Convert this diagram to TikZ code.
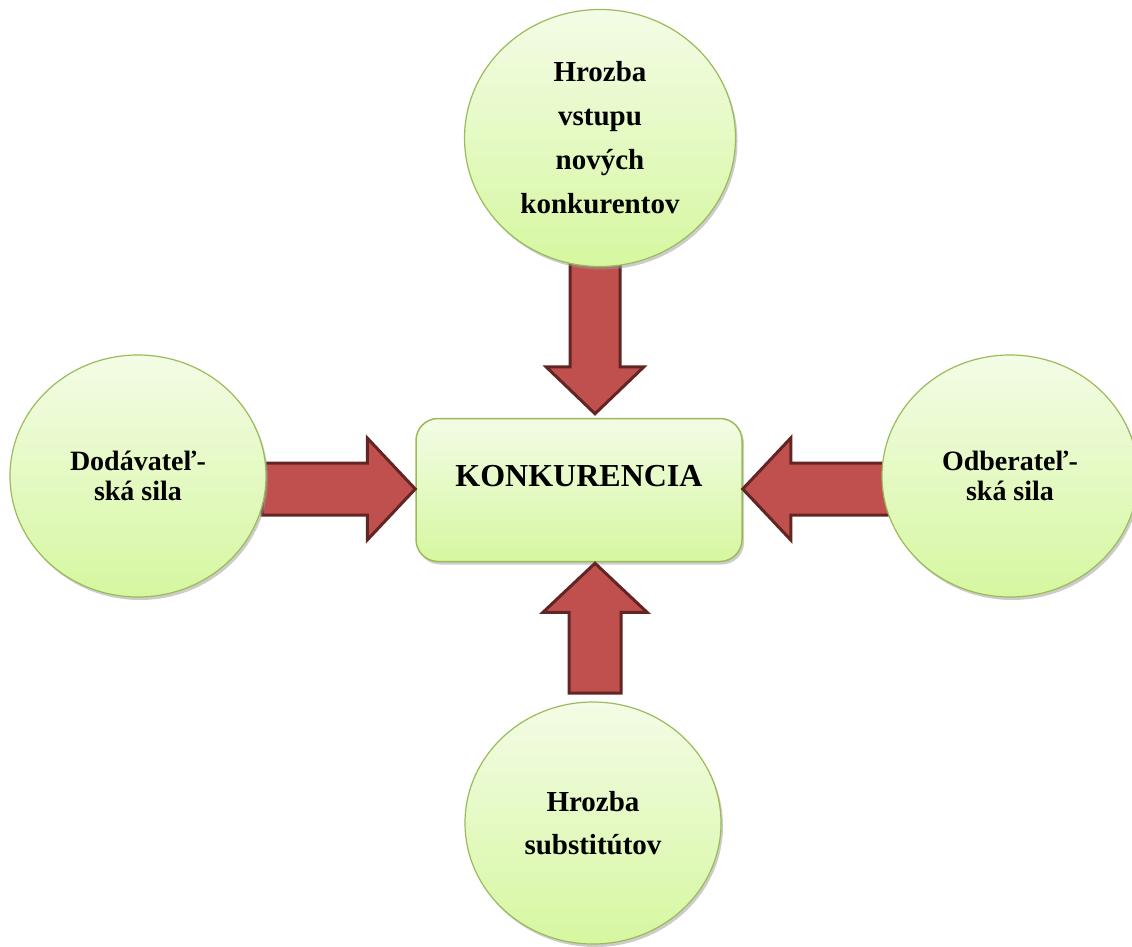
\documentclass[tikz,border=0pt]{standalone}
\usepackage{fontspec}
\setmainfont{Liberation Serif}
\usetikzlibrary{shapes.geometric,shadows}
\definecolor{forcefill}{RGB}{192,80,77}
\definecolor{forceline}{RGB}{99,37,36}
\definecolor{leafline}{RGB}{155,187,89}
\definecolor{leaftop}{RGB}{243,252,230}
\definecolor{leafbot}{RGB}{214,247,160}
\tikzset{
  leaf/.style={ellipse, draw=leafline, line width=1.2pt,
    top color=leaftop, bottom color=leafbot, align=center,
    font=\bfseries, inner sep=0pt,
    drop shadow={shadow xshift=2pt, shadow yshift=-3pt, fill=black!40, opacity=0.5}},
  hub/.style={rectangle, rounded corners=22pt, draw=leafline, line width=1.5pt,
    top color=leaftop, bottom color=leafbot, align=center,
    minimum width=326pt, minimum height=143pt,
    font=\fontsize{32}{36}\selectfont\bfseries,
    text height=22pt, text depth=30pt,
    drop shadow={shadow xshift=2pt, shadow yshift=-3pt, fill=black!40, opacity=0.5}},
  force/.style={fill=forcefill, draw=forceline, line width=3pt, line join=miter}
}
\begin{document}
\begin{tikzpicture}[x=1pt, y=-1pt]
\useasboundingbox (0,0) rectangle (1132,947);

% central box
\node[hub] (kon) at (579,490) {KONKURENCIA};

% arrow tips on the box and the feet of the arrows (under the circles)
\coordinate (toptip) at ([xshift=16pt,yshift=4pt]kon.north);
\coordinate (bottip) at ([xshift=16pt,yshift=-1pt]kon.south);
\coordinate (lefttip) at ([yshift=1pt]kon.west);
\coordinate (righttip) at ([yshift=1pt]kon.east);
\coordinate (topfoot) at (595,262);
\coordinate (botfoot) at (595,693);
\coordinate (leftfoot) at (262,489);
\coordinate (rightfoot) at (892,489);

% block arrows pointing at the central box
\draw[force] (toptip) -- ++(49,-47) -- ++(-24,0) |- (topfoot)
  -- ++(-25,0) |- ([xshift=-49pt,yshift=47pt]toptip) -- cycle;
\draw[force] (bottip) -- ++(52,49) -- ++(-26,0) |- (botfoot)
  -- ++(-26,0) |- ([xshift=-52pt,yshift=-49pt]bottip) -- cycle;
\draw[force] (lefttip) -- ++(-48,-51) -- ++(0,25) -| (leftfoot)
  -- ++(0,26) -| ([xshift=-48pt,yshift=-51pt]lefttip) -- cycle;
\draw[force] (righttip) -- ++(48,-51) -- ++(0,25) -| (rightfoot)
  -- ++(0,26) -| ([xshift=48pt,yshift=-51pt]righttip) -- cycle;

% the four forces
\node[leaf, minimum width=271pt, minimum height=257pt,
  font=\fontsize{29}{44}\selectfont\bfseries] (entry) at (600,138)
  {Hrozba\\vstupu\\nových\\konkurentov};
\node[leaf, minimum width=256pt, minimum height=242pt,
  font=\fontsize{28}{30}\selectfont\bfseries] (supp) at (138,476)
  {Dodávateľ-\\ská sila};
\node[leaf, minimum width=256pt, minimum height=242pt,
  font=\fontsize{28}{30}\selectfont\bfseries] (buy) at (1010,476)
  {Odberateľ-\\ská sila};
\node[leaf, minimum width=256pt, minimum height=242pt,
  font=\fontsize{29}{43}\selectfont\bfseries] (subst) at (593,823)
  {Hrozba\\substitútov};
\end{tikzpicture}
\end{document}
